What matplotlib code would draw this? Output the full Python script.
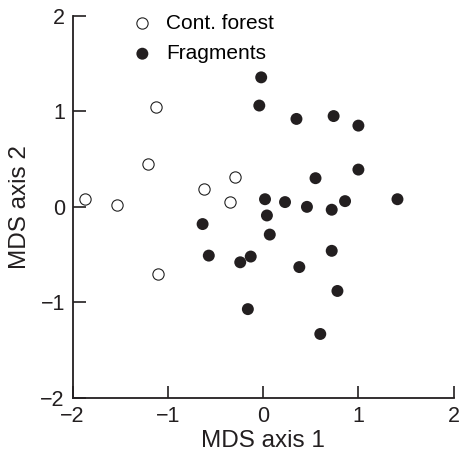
import matplotlib
matplotlib.use("Agg")
import matplotlib.pyplot as plt

plt.rcParams['font.family'] = ['Liberation Sans', 'DejaVu Sans']

forest_x = [-1.87, -1.53, -1.12, -1.21, -0.62, -0.30, -0.35, -1.10]
forest_y = [0.08, 0.02, 1.05, 0.45, 0.19, 0.31, 0.05, -0.70]

frag_x = [-0.02, -0.04, 0.35, 0.74, 1.00, 1.00, 0.55, 1.41, 0.02, 0.23, 0.04, 0.07,
          -0.635, 0.46, 0.72, 0.86, -0.57, -0.24, -0.13, 0.38, 0.72, 0.78, -0.16, 0.60]
frag_y = [1.355, 1.06, 0.92, 0.95, 0.85, 0.39, 0.30, 0.08, 0.08, 0.05, -0.09, -0.29,
          -0.18, 0.00, -0.03, 0.06, -0.51, -0.58, -0.52, -0.63, -0.46, -0.88, -1.07, -1.33]

ticks = [-2, -1, 0, 1, 2]
tick_labels = ['\u22122', '\u22121', '0', '1', '2']

fig = plt.figure(figsize=(4.62, 4.62), dpi=100)
ax = fig.add_axes([0.157, 0.1385, 0.825, 0.8275])

ax.scatter(forest_x, forest_y, s=66, facecolors='white', edgecolors='#222222',
           linewidths=0.8, label='Cont. forest', zorder=3)
ax.scatter(frag_x, frag_y, s=74, facecolors='#231f20', edgecolors='none',
           label='Fragments', zorder=3)

ax.set_xlim(-2, 2)
ax.set_ylim(-2, 2)
ax.set_xticks(ticks)
ax.set_yticks(ticks)
ax.set_xticklabels(tick_labels)
ax.set_yticklabels(tick_labels)
ax.tick_params(direction='in', length=9, width=1.2, labelsize=15.5, colors='#231f20')
ax.tick_params(axis='x', pad=5.5)
ax.tick_params(axis='y', pad=5.5)
for s in ['top', 'right']:
    ax.spines[s].set_visible(False)
for s in ['left', 'bottom']:
    ax.spines[s].set_linewidth(1.3)
    ax.spines[s].set_color('#231f20')

ax.set_xlabel('MDS axis 1', fontsize=17.5, color='#231f20', labelpad=2.5)
ax.set_ylabel('MDS axis 2', fontsize=17.5, color='#231f20', labelpad=7)

ax.legend(loc='upper left', bbox_to_anchor=(0.134, 1.027), frameon=False, fontsize=15,
          handlelength=1.0, handletextpad=0.65, labelspacing=0.55, borderaxespad=0,
          scatterpoints=1)

fig.savefig('out.png', dpi=100)
